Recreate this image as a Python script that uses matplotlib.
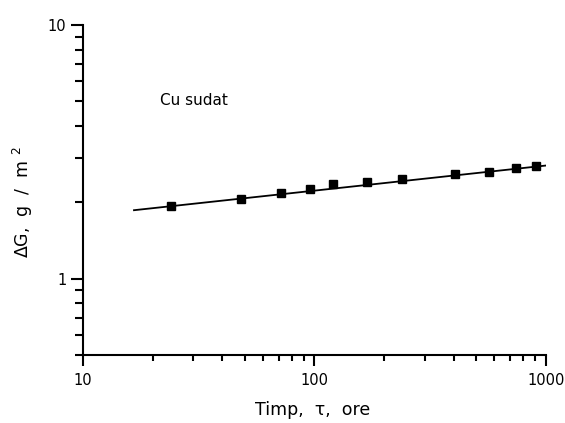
import matplotlib
matplotlib.use("Agg")
import matplotlib.pyplot as plt
from matplotlib.ticker import LogLocator, NullFormatter, FixedLocator, FixedFormatter

# data
time_h = [24, 48, 72, 96, 120, 168, 240, 404, 569, 741, 905]
dG = [1.93, 2.06, 2.17, 2.25, 2.35, 2.40, 2.46, 2.58, 2.62, 2.73, 2.79]
fit_x = [16.6, 1000]
fit_y = [1.86, 2.79]
xticks = [10, 100, 1000]
xtick_labels = ["10", "100", "1000"]
yticks = [1, 10]
ytick_labels = ["1", "10"]

plt.rcParams['font.family'] = ['DejaVu Sans']

fig = plt.figure(figsize=(5.65, 4.23), dpi=100)
ax = fig.add_axes([0.147, 0.161, 0.819, 0.780])
ax.set_xscale('log')
ax.set_yscale('log')
ax.plot(fit_x, fit_y, color='black', lw=1.3)
ax.plot(time_h, dG, 's', color='black', ms=5.5)
ax.set_xlim(10, 1000)
ax.set_ylim(0.5, 10)

ax.xaxis.set_major_locator(FixedLocator(xticks))
ax.xaxis.set_major_formatter(FixedFormatter(xtick_labels))
ax.xaxis.set_minor_locator(LogLocator(base=10, subs=range(2, 10)))
ax.xaxis.set_minor_formatter(NullFormatter())
ax.yaxis.set_major_locator(FixedLocator(yticks))
ax.yaxis.set_major_formatter(FixedFormatter(ytick_labels))
ax.yaxis.set_minor_locator(LogLocator(base=10, subs=range(2, 10)))
ax.yaxis.set_minor_formatter(NullFormatter())

for s in ['top', 'right']:
    ax.spines[s].set_visible(False)
for s in ['left', 'bottom']:
    ax.spines[s].set_linewidth(1.5)
ax.tick_params(axis='x', which='major', direction='out', length=8, width=1.5, labelsize=10.5, pad=5)
ax.tick_params(axis='x', which='minor', direction='out', length=4, width=1.5)
ax.tick_params(axis='y', which='major', direction='out', length=9, width=1.5, labelsize=10.5, pad=3)
ax.tick_params(axis='y', which='minor', direction='out', length=6, width=1.5)

ax.text(21.5, 5.05, "Cu sudat", fontsize=11, va='center', ha='left')
ax.set_xlabel("Timp,  τ,  ore", fontsize=12.5)
ax.xaxis.set_label_coords(0.497, -0.14)
ax.set_ylabel("ΔG,  g  /  m $^{2}$", fontsize=12.5)
ax.yaxis.set_label_coords(-0.104, 0.464)

fig.savefig("out.png", dpi=100)
